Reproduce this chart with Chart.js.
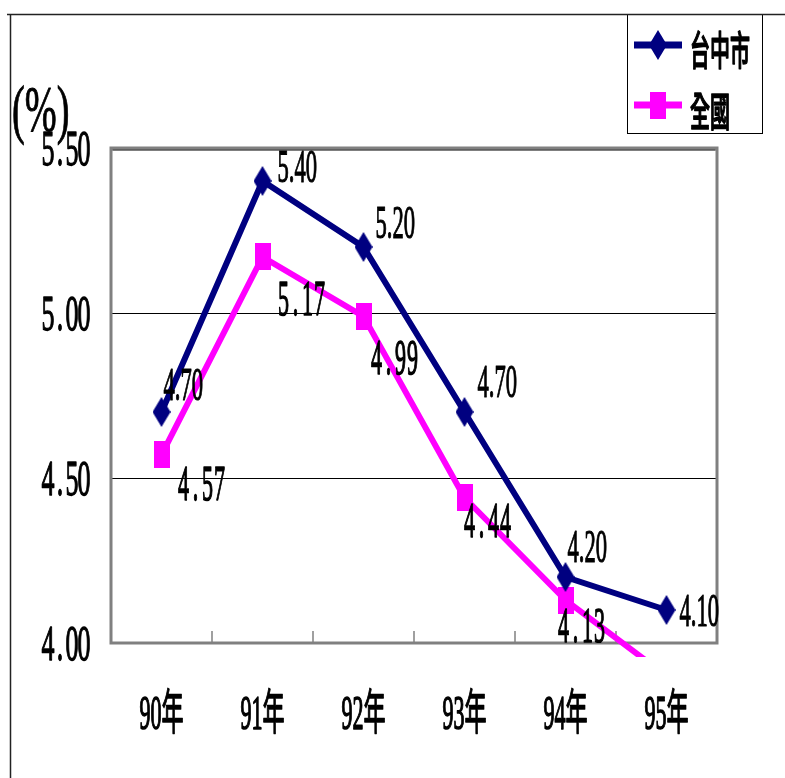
<!DOCTYPE html>
<html>
<head>
<meta charset="utf-8">
<script src="https://cdn.jsdelivr.net/npm/chart.js@4/dist/chart.umd.min.js"></script>
<style>
  html, body { margin: 0; padding: 0; background: #fff; }
  canvas { display: block; }
</style>
</head>
<body>
<canvas id="chart" width="785" height="778"></canvas>
<script>
// data
const categories = ['90年', '91年', '92年', '93年', '94年', '95年'];
const taichung = [4.70, 5.40, 5.20, 4.70, 4.20, 4.10];
const national = [4.57, 5.17, 4.99, 4.44, 4.13, 3.90];
const yTicks = [4.00, 4.50, 5.00, 5.50];
const seriesNames = ['台中市', '全國'];

// label placement relative to each point: [dx to left edge, dy to baseline]
const taichungLabelPos = [[2, -12], [15, 1], [12, -9], [13, -15], [2, -15], [13, 16]];
const nationalLabelPos = [[16, 45], [15, 58], [7, 58], [-1, 39], [-8, 42], [0, 40]];

const NAVY = '#000080';
const PINK = '#FF00FF';
const SERIF = '"Liberation Serif", "Noto Sans CJK TC", serif';

function makeDiamond(w, h, color) {
  const c = document.createElement('canvas');
  c.width = w; c.height = h;
  const g = c.getContext('2d');
  g.fillStyle = color;
  g.beginPath();
  g.moveTo(w / 2, 0); g.lineTo(w, h / 2); g.lineTo(w / 2, h); g.lineTo(0, h / 2);
  g.closePath();
  g.fill();
  return c;
}

function makeRect(w, h, color) {
  const c = document.createElement('canvas');
  c.width = w; c.height = h;
  const g = c.getContext('2d');
  g.fillStyle = color;
  g.fillRect(0, 0, w, h);
  return c;
}

const diamond = makeDiamond(18, 30, NAVY);
const square = makeRect(16, 27, PINK);

// squeezed text, like the narrow fonts of the original
function squeezed(ctx, text, x, y, font, sx, align, heavy) {
  ctx.save();
  ctx.font = font;
  ctx.textBaseline = 'alphabetic';
  ctx.textAlign = 'left';
  const w = ctx.measureText(text).width * sx;
  let x0 = x;
  if (align === 'center') x0 = x - w / 2;
  if (align === 'right') x0 = x - w;
  ctx.translate(x0, y);
  ctx.scale(sx, 1);
  ctx.fillStyle = '#000';
  ctx.fillText(text, 0, 0);
  if (heavy) {
    ctx.strokeStyle = '#000';
    ctx.lineWidth = heavy;
    ctx.lineJoin = 'round';
    ctx.strokeText(text, 0, 0);
  }
  ctx.restore();
}

// fixed-width cells (half-width mincho look)
function cells(ctx, text, x, y, font, sx, cell, align, heavy) {
  const total = text.length * cell;
  let x0 = x;
  if (align === 'center') x0 = x - total / 2;
  if (align === 'right') x0 = x - total;
  for (let i = 0; i < text.length; i++) {
    squeezed(ctx, text[i], x0 + i * cell + cell / 2, y, font, sx, 'center', heavy);
  }
}

const decor = {
  id: 'decor',
  beforeDatasetsDraw(chart) {
    const { ctx, chartArea: a, scales: { x } } = chart;
    ctx.save();
    // small category ticks inside the bottom edge
    ctx.strokeStyle = '#808080';
    ctx.lineWidth = 1.5;
    for (let i = 0; i < categories.length - 1; i++) {
      const px = (x.getPixelForValue(i) + x.getPixelForValue(i + 1)) / 2;
      ctx.beginPath();
      ctx.moveTo(px, a.bottom);
      ctx.lineTo(px, a.bottom - 12);
      ctx.stroke();
    }
    // plot frame
    ctx.strokeStyle = '#808080';
    ctx.lineWidth = 3;
    ctx.strokeRect(a.left, a.top, a.right - a.left, a.bottom - a.top);
    ctx.strokeStyle = '#000';
    ctx.lineWidth = 1;
    ctx.beginPath();
    ctx.moveTo(a.left + 1.5, a.top + 2);
    ctx.lineTo(a.right - 1.5, a.top + 2);
    ctx.stroke();
    ctx.restore();
  },
  afterDatasetsDraw(chart) {
    const { ctx, chartArea: a, scales: { x, y } } = chart;

    // value labels, cut at the bottom of the plot
    ctx.save();
    ctx.beginPath();
    ctx.rect(0, 0, chart.width, a.bottom);
    ctx.clip();
    taichung.forEach((v, i) => {
      const px = x.getPixelForValue(i), py = y.getPixelForValue(v);
      const [dx, dy] = taichungLabelPos[i];
      squeezed(ctx, v.toFixed(2), px + dx, py + dy, '47px ' + SERIF, 0.48, 'left', 1.2);
    });
    national.forEach((v, i) => {
      if (v < y.min) return;
      const px = x.getPixelForValue(i), py = y.getPixelForValue(v);
      const [dx, dy] = nationalLabelPos[i];
      cells(ctx, v.toFixed(2), px + dx, py + dy, '50px ' + SERIF, 0.44, 12, 'left', 1.5);
    });
    ctx.restore();

    // y tick labels
    yTicks.forEach(v => {
      cells(ctx, v.toFixed(2), 90, y.getPixelForValue(v) + 17, '50px ' + SERIF, 0.52, 12, 'right', 1.3);
    });
    // x tick labels
    categories.forEach((c, i) => {
      squeezed(ctx, c, x.getPixelForValue(i), 729, '48px ' + SERIF, 0.46, 'center', 1.5);
    });
    // unit
    squeezed(ctx, '(%)', 12, 131, '66px ' + SERIF, 0.58, 'left', 1);

    // legend
    ctx.save();
    ctx.strokeStyle = '#000';
    ctx.lineWidth = 1;
    ctx.strokeRect(627.5, 14.5, 135, 119);
    const items = [
      { name: seriesNames[0], color: NAVY, img: diamond, y: 45, base: 65 },
      { name: seriesNames[1], color: PINK, img: square, y: 105, base: 126 }
    ];
    items.forEach(it => {
      ctx.strokeStyle = it.color;
      ctx.lineWidth = 7;
      ctx.beginPath();
      ctx.moveTo(634, it.y);
      ctx.lineTo(682, it.y);
      ctx.stroke();
      ctx.drawImage(it.img, 658 - it.img.width / 2, it.y - it.img.height / 2);
      squeezed(ctx, it.name, 690, it.base, '500 40px "Noto Sans CJK TC"', 0.5, 'left', 1.5);
    });
    ctx.restore();

    // outer frame
    ctx.save();
    ctx.strokeStyle = '#222';
    ctx.lineWidth = 1.5;
    ctx.beginPath();
    ctx.moveTo(7, 14.5); ctx.lineTo(785, 14.5);
    ctx.moveTo(10.5, 14); ctx.lineTo(10.5, 778);
    ctx.stroke();
    ctx.restore();
  }
};

const clipArea = { left: 0, top: 5, right: 0, bottom: 14 };

new Chart(document.getElementById('chart'), {
  type: 'line',
  data: {
    labels: categories,
    datasets: [
      {
        label: seriesNames[0],
        data: taichung,
        borderColor: NAVY,
        backgroundColor: NAVY,
        borderWidth: 6,
        pointStyle: diamond,
        pointRadius: 10,
        clip: clipArea
      },
      {
        label: seriesNames[1],
        data: national,
        borderColor: PINK,
        backgroundColor: PINK,
        borderWidth: 6,
        pointStyle: square,
        pointRadius: 10,
        clip: clipArea
      }
    ]
  },
  options: {
    responsive: false,
    animation: false,
    devicePixelRatio: 1,
    layout: { padding: { top: 148, right: 68, left: 0, bottom: 0 } },
    plugins: {
      legend: { display: false },
      tooltip: { enabled: false }
    },
    scales: {
      x: {
        offset: true,
        grid: { display: false },
        border: { display: false },
        ticks: { display: false },
        afterFit(s) { s.height = 135; }
      },
      y: {
        min: 4,
        max: 5.5,
        afterBuildTicks(s) { s.ticks = yTicks.map(v => ({ value: v })); },
        grid: { color: '#000', lineWidth: 1, drawTicks: false },
        border: { display: false },
        ticks: { display: false },
        afterFit(s) { s.width = 111; }
      }
    }
  },
  plugins: [decor]
});
</script>
</body>
</html>
